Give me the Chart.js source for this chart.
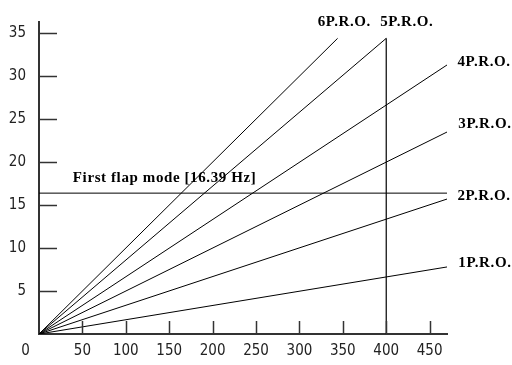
<!DOCTYPE html>
<html>
<head>
<meta charset="utf-8">
<script src="https://cdn.jsdelivr.net/npm/chart.js@4"></script>
<style>
html,body{margin:0;padding:0;background:#fff;}
#wrap{width:512px;height:365px;position:relative;}
</style>
</head>
<body>
<div id="wrap"><canvas id="c" width="512" height="365"></canvas></div>
<script>
// ---- data ----
const orderLabels = ['1P.R.O.', '2P.R.O.', '3P.R.O.', '4P.R.O.', '5P.R.O.', '6P.R.O.'];
const orderEndRpm = [470, 470, 470, 470, 400, 344];
const orderEndHz  = [7.8, 15.7, 23.5, 31.3, 34.4, 34.4];
const flapLabel = 'First flap mode [16.39 Hz]';
const flapHz = 16.39;
const flapRange = [0, 470];
const maxRpmLine = 400;
const maxRpmTop = 34.4;
const xTicks = [0, 50, 100, 150, 200, 250, 300, 350, 400, 450];
const yTicks = [5, 10, 15, 20, 25, 30, 35];
const xMax = 470;
const yMax = 36.3;

// label anchor positions (data coords) & styles kept separate
const orderLabelPos = [
  {x: 483, y: 8.3},
  {x: 482, y: 16.0},
  {x: 483, y: 24.4},
  {x: 482, y: 31.6},
  {x: 393, y: 36.3},
  {x: 321, y: 36.3}
];
const flapLabelPos = {x: 39, y: 18.1};

const datasets = [];
orderLabels.forEach((lab, i) => {
  datasets.push({
    label: lab,
    data: [{x: 0, y: 0}, {x: orderEndRpm[i], y: orderEndHz[i]}],
    borderColor: '#000', borderWidth: 1, pointRadius: 0, fill: false
  });
});
datasets.push({
  label: flapLabel,
  data: [{x: flapRange[0], y: flapHz}, {x: flapRange[1], y: flapHz}],
  borderColor: '#000', borderWidth: 1, pointRadius: 0, fill: false
});
datasets.push({
  label: 'max',
  data: [{x: maxRpmLine, y: 0}, {x: maxRpmLine, y: maxRpmTop}],
  borderColor: '#000', borderWidth: 1.2, pointRadius: 0, fill: false
});

const tickFont = {family: "'Liberation Sans Narrow', 'DejaVu Sans Condensed', sans-serif", size: 15};

const decor = {
  id: 'decor',
  afterDraw(chart) {
    const ctx = chart.ctx;
    const xs = chart.scales.x, ys = chart.scales.y;
    ctx.save();
    ctx.strokeStyle = '#333';
    ctx.lineWidth = 1.5;
    const x0 = xs.getPixelForValue(0), y0 = ys.getPixelForValue(0);
    yTicks.forEach(v => {
      const py = Math.round(ys.getPixelForValue(v)) + 0.5;
      ctx.beginPath(); ctx.moveTo(x0, py); ctx.lineTo(x0 + 18, py); ctx.stroke();
    });
    xTicks.forEach(v => {
      if (v === 0) return;
      const px = Math.round(xs.getPixelForValue(v)) + 0.5;
      ctx.beginPath(); ctx.moveTo(px, y0); ctx.lineTo(px, y0 - 13); ctx.stroke();
    });
    ctx.fillStyle = '#000';
    ctx.font = "bold 15px 'Liberation Serif', 'Times New Roman', serif";
    if ('letterSpacing' in ctx) ctx.letterSpacing = '0.6px';
    ctx.textBaseline = 'middle';
    ctx.textAlign = 'left';
    orderLabels.forEach((lab, i) => {
      const p = orderLabelPos[i];
      ctx.fillText(lab, xs.getPixelForValue(p.x), ys.getPixelForValue(p.y));
    });
    ctx.fillText(flapLabel, xs.getPixelForValue(flapLabelPos.x), ys.getPixelForValue(flapLabelPos.y));
    ctx.restore();
  }
};

new Chart(document.getElementById('c'), {
  type: 'line',
  data: {datasets},
  options: {
    responsive: false,
    animation: false,
    parsing: true,
    layout: {padding: {top: 17, right: 65, left: 0, bottom: 0}},
    plugins: {legend: {display: false}, tooltip: {enabled: false}},
    scales: {
      x: {
        type: 'linear', min: 0, max: xMax,
        afterBuildTicks: s => { s.ticks = xTicks.map(v => ({value: v})); },
        afterFit: s => { s.height = 31; },
        grid: {display: false, drawTicks: false},
        border: {display: true, color: '#333', width: 2},
        ticks: {
          color: '#222', font: tickFont, padding: 8, maxRotation: 0, autoSkip: false,
          callback: v => v === 0 ? '0\u2002\u2002\u2002\u2002' : String(v)
        }
      },
      y: {
        type: 'linear', min: 0, max: yMax,
        afterBuildTicks: s => { s.ticks = yTicks.map(v => ({value: v})); },
        afterFit: s => { s.width = 39; },
        grid: {display: false, drawTicks: false},
        border: {display: true, color: '#333', width: 2},
        ticks: {color: '#222', font: tickFont, padding: 13, callback: v => String(v)}
      }
    }
  },
  plugins: [decor]
});
</script>
</body>
</html>
